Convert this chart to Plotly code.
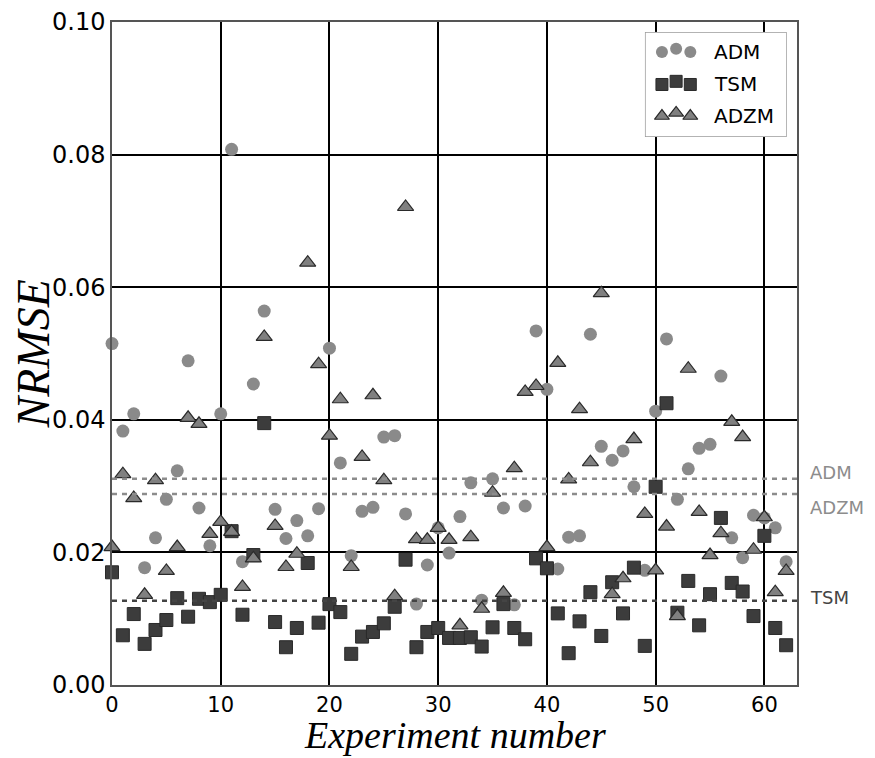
import plotly.graph_objects as go

experiments = list(range(63))

adm = [0.0515, 0.0383, 0.0409, 0.0177, 0.0222, 0.0280, 0.0323, 0.0489, 0.0267, 0.0210,
       0.0409, 0.0808, 0.0186, 0.0454, 0.0564, 0.0265, 0.0221, 0.0248, 0.0225, 0.0266,
       0.0508, 0.0335, 0.0195, 0.0262, 0.0268, 0.0374, 0.0376, 0.0258, 0.0122, 0.0181,
       0.0237, 0.0199, 0.0254, 0.0305, 0.0128, 0.0311, 0.0267, 0.0121, 0.0270, 0.0534,
       0.0446, 0.0175, 0.0223, 0.0225, 0.0529, 0.0360, 0.0339, 0.0353, 0.0299, 0.0173,
       0.0413, 0.0522, 0.0280, 0.0326, 0.0357, 0.0363, 0.0466, 0.0222, 0.0192, 0.0256,
       0.0252, 0.0237, 0.0186]

tsm = [0.0170, 0.0075, 0.0107, 0.0062, 0.0083, 0.0098, 0.0131, 0.0103, 0.0130, 0.0125,
       0.0136, 0.0232, 0.0106, 0.0196, 0.0395, 0.0095, 0.0057, 0.0086, 0.0184, 0.0094,
       0.0122, 0.0110, 0.0047, 0.0073, 0.0080, 0.0093, 0.0118, 0.0189, 0.0057, 0.0080,
       0.0086, 0.0071, 0.0071, 0.0072, 0.0058, 0.0087, 0.0122, 0.0086, 0.0069, 0.0191,
       0.0176, 0.0108, 0.0048, 0.0096, 0.0140, 0.0074, 0.0155, 0.0108, 0.0177, 0.0059,
       0.0299, 0.0425, 0.0109, 0.0157, 0.0090, 0.0137, 0.0252, 0.0154, 0.0141, 0.0104,
       0.0225, 0.0086, 0.0060]

adzm = [0.0208, 0.0318, 0.0282, 0.0136, 0.0309, 0.0172, 0.0208, 0.0403, 0.0394, 0.0228,
        0.0246, 0.0231, 0.0148, 0.0191, 0.0525, 0.0240, 0.0178, 0.0198, 0.0637, 0.0484,
        0.0376, 0.0431, 0.0178, 0.0344, 0.0437, 0.0309, 0.0134, 0.0721, 0.0220, 0.0219,
        0.0237, 0.0219, 0.0090, 0.0223, 0.0115, 0.0290, 0.0139, 0.0327, 0.0442, 0.0451,
        0.0208, 0.0486, 0.0310, 0.0416, 0.0336, 0.0591, 0.0137, 0.0161, 0.0371, 0.0258,
        0.0173, 0.0239, 0.0104, 0.0477, 0.0261, 0.0196, 0.0229, 0.0397, 0.0374, 0.0204,
        0.0253, 0.0140, 0.0172]

series_names = ["ADM", "TSM", "ADZM"]
mean_levels = {"ADM": 0.0311, "TSM": 0.0127, "ADZM": 0.0288}
label_levels = {"ADM": 0.0321, "TSM": 0.0132, "ADZM": 0.0267}

x_ticks = [0, 10, 20, 30, 40, 50, 60]
y_ticks = [0.00, 0.02, 0.04, 0.06, 0.08, 0.10]
y_tick_labels = ["0.00", "0.02", "0.04", "0.06", "0.08", "0.10"]
x_title = "Experiment number"
y_title = "NRMSE"

styles = {
    "ADM": dict(symbol="circle", size=13, color="#8a8a8a", line=dict(width=0)),
    "TSM": dict(symbol="square", size=13, color="#3c3c3c", line=dict(width=1, color="#2a2a2a")),
    "ADZM": dict(symbol="triangle-up", size=14, color="#808080", line=dict(width=1.2, color="#2a2a2a")),
}
legend_styles = {
    "ADM": dict(symbol="circle", size=12, color="#8a8a8a", line=dict(width=0)),
    "TSM": dict(symbol="square", size=12, color="#3c3c3c", line=dict(width=1, color="#2a2a2a")),
    "ADZM": dict(symbol="triangle-up", size=13, color="#808080", line=dict(width=1.2, color="#2a2a2a")),
}
line_colors = {"ADM": "#8c8c8c", "TSM": "#444444", "ADZM": "#8c8c8c"}
text_colors = {"ADM": "#8c8c8c", "TSM": "#444444", "ADZM": "#8c8c8c"}

values = {"ADM": adm, "TSM": tsm, "ADZM": adzm}

fig = go.Figure()

for name in series_names:
    fig.add_trace(go.Scatter(x=experiments, y=values[name], mode="markers", name=name,
                             marker=styles[name], showlegend=False, cliponaxis=False))

# dashed mean lines and right-side labels
for name in series_names:
    fig.add_shape(type="line", xref="x", yref="y", x0=0, x1=63,
                  y0=mean_levels[name], y1=mean_levels[name],
                  line=dict(color=line_colors[name], width=2.5, dash="5px,5px"), layer="above")
    fig.add_annotation(xref="paper", yref="y", x=1.016, y=label_levels[name], text=name,
                       showarrow=False, xanchor="left", yanchor="middle",
                       font=dict(family="DejaVu Sans", size=18, color=text_colors[name]))

# custom legend on a helper axis (box + three glyphs per entry)
fig.add_trace(go.Scatter(x=[0, 1, 1, 0, 0], y=[0, 0, 1, 1, 0], mode="lines", fill="toself",
                         fillcolor="white", line=dict(color="#9a9a9a", width=1.5),
                         xaxis="x2", yaxis="y2", showlegend=False, hoverinfo="skip"))
legend_rows = {"ADM": 0.81, "TSM": 0.50, "ADZM": 0.20}
glyph_x = [0.12, 0.22, 0.32]
glyph_dy = [0.0, 0.03, 0.0]
for name in series_names:
    fig.add_trace(go.Scatter(x=glyph_x, y=[legend_rows[name] + d for d in glyph_dy], mode="markers",
                             marker=legend_styles[name], xaxis="x2", yaxis="y2",
                             showlegend=False, hoverinfo="skip"))
    fig.add_annotation(xref="x2", yref="y2", x=0.47, y=legend_rows[name], text=name,
                       showarrow=False, xanchor="left", yanchor="middle",
                       font=dict(family="DejaVu Sans", size=20, color="black"))

# axis titles as annotations for exact placement
fig.add_annotation(xref="paper", yref="paper", x=0.5, y=-0.108, text="<i>" + x_title + "</i>",
                   showarrow=False, xanchor="center", yanchor="bottom", borderpad=0,
                   font=dict(family="Liberation Serif", size=38, color="black"))
fig.add_annotation(xref="paper", yref="paper", x=-0.114, y=0.5, text="<i>" + y_title + "</i>",
                   showarrow=False, xanchor="center", yanchor="middle", textangle=-90,
                   borderpad=0, font=dict(family="Liberation Serif", size=46, color="black"))

fig.update_layout(
    width=875, height=758,
    margin=dict(l=112, r=78, t=22, b=73),
    paper_bgcolor="white", plot_bgcolor="white",
    showlegend=False,
    xaxis=dict(range=[0, 63], tickvals=x_ticks, showgrid=True, gridcolor="black", gridwidth=2,
               zeroline=False, showline=True, linecolor="#555555", linewidth=1.5, mirror="ticks",
               ticks="inside", ticklen=6, tickcolor="black", automargin=False,
               tickfont=dict(family="DejaVu Sans", size=21, color="black")),
    yaxis=dict(range=[0, 0.1], tickvals=y_ticks, ticktext=y_tick_labels, showgrid=True,
               gridcolor="black", gridwidth=2, zeroline=False, showline=True,
               linecolor="#555555", linewidth=1.5, mirror="ticks",
               ticks="inside", ticklen=6, tickcolor="black", automargin=False,
               tickfont=dict(family="DejaVu Sans", size=24, color="black")),
    xaxis2=dict(domain=[0.778, 0.985], range=[0, 1], anchor="y2", visible=False, fixedrange=True),
    yaxis2=dict(domain=[0.8265, 0.985], range=[0, 1], anchor="x2", visible=False, fixedrange=True),
)

fig.write_html("out.html")
